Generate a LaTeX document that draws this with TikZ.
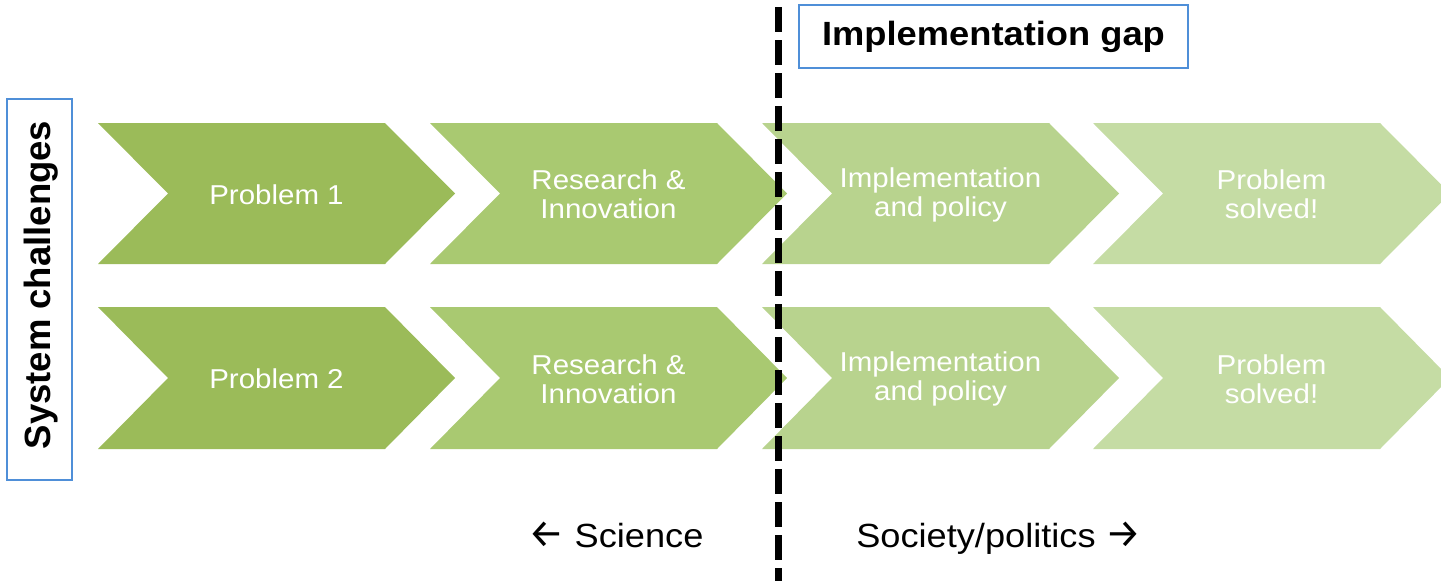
\documentclass[tikz,border=0pt]{standalone}
\usepackage{fontspec}
\setmainfont{Liberation Sans}[FakeStretch=1.08]
\newfontfamily\plainsans{Liberation Sans}
\newfontfamily\arrowfont{Fira Sans}
\definecolor{gA}{HTML}{9BBB59}
\definecolor{gB}{HTML}{A9C971}
\definecolor{gC}{HTML}{B8D38E}
\definecolor{gD}{HTML}{C5DCA4}
\definecolor{boxblue}{HTML}{4F8FD8}
\tikzset{
  chevfill/.style={fill=#1, draw=none},
  chevtext/.style={text=white, align=center, inner sep=0pt,
    font=\fontsize{27.3}{29}\selectfont},
  labelbox/.style={draw=boxblue, line width=1.6pt, inner sep=0pt},
  gapline/.style={line width=7pt, dash pattern=on 25pt off 8pt},
  bottomtext/.style={inner sep=0pt, anchor=base, font=\fontsize{33.5}{36}\selectfont}
}
\newcommand\arr[1]{{\arrowfont\fontsize{40}{36}\selectfont #1}}
% #1 left x, #2 top y, #3 bottom y, #4 colour, #5 name, #6 text
\newcommand\mychev[6]{%
  \fill[chevfill=#4] (#1,#2) -- ++(287,0) -- ++(70,{(#3-#2)/2}) -- (#1+287,#3)
     -- (#1,#3) -- ++(70,{-(#3-#2)/2}) -- cycle;
  \node[chevtext] (#5) at ({#1+178.5},{(#2+#3)/2+1}) {#6};
}
\begin{document}
\begin{tikzpicture}[x=1pt,y=-1pt]
\useasboundingbox (0,0) rectangle (1441,581);
\clip (0,0) rectangle (1441,581);
% row 1
\mychev{98}{123}{264}{gA}{p1}{Problem 1}
\mychev{430}{123}{264}{gB}{ri1}{Research \&\\Innovation}
\mychev{762}{123}{264}{gC}{ip1}{Implementation\\and policy}
\mychev{1093}{123}{264}{gD}{ps1}{Problem\\solved!}
% row 2
\mychev{98}{307}{449}{gA}{p2}{Problem 2}
\mychev{430}{307}{449}{gB}{ri2}{Research \&\\Innovation}
\mychev{762}{307}{449}{gC}{ip2}{Implementation\\and policy}
\mychev{1093}{307}{449}{gD}{ps2}{Problem\\solved!}
% dashed line
\coordinate (dtop) at (778,7);
\coordinate (dbot) at (778,585);
\draw[gapline] (dtop) -- (dbot);
% boxes
\node[labelbox, minimum width=389pt, minimum height=63pt,
      font=\fontsize{33.6}{36}\selectfont\bfseries] (gap) at (993.5,36.5) {Implementation gap};
\node[labelbox, minimum width=65pt, minimum height=381pt] (sysbox) at (39.5,289.5) {};
\node[inner sep=0pt, rotate=90, font=\plainsans\fontsize{36.5}{38}\selectfont\bfseries]
      (sys) at (41,285) {System challenges};
% bottom labels
\node[bottomtext] (sci) at (616,547) {\arr{←} Science};
\node[bottomtext] (soc) at (999,547) {Society/politics \arr{→}};
\end{tikzpicture}
\end{document}
